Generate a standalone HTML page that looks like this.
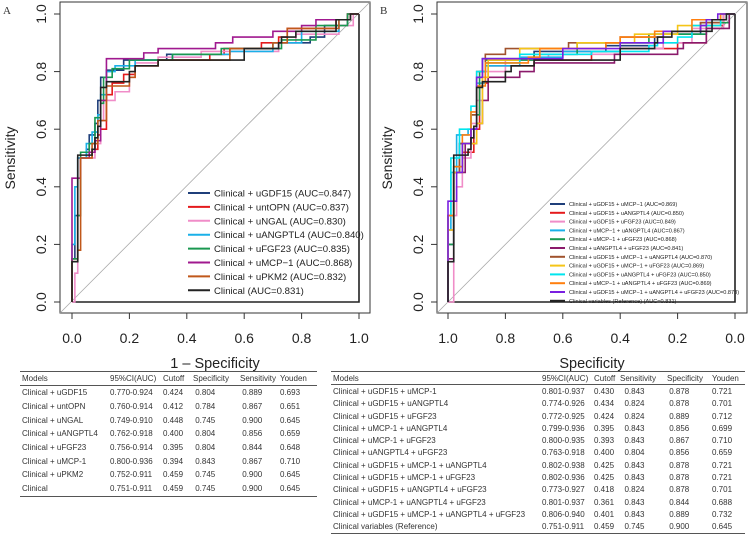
<!DOCTYPE html>
<html><head><meta charset="utf-8"><style>
body{margin:0;background:#fff;width:750px;height:536px;overflow:hidden;font-family:"Liberation Sans",sans-serif}
svg{position:absolute;left:0;top:0}
table{position:absolute;border-collapse:collapse;font-size:8px;color:#333;table-layout:fixed}
td{padding:0 0 0 2px;height:13.7px;white-space:nowrap;overflow:hidden}
#t2 td{height:12.3px}
thead td{border-bottom:1px solid #555;height:13px}
table{border-top:1px solid #555;border-bottom:1.5px solid #555}
</style></head><body>
<svg width="750" height="536"><g id="root"></g></svg>
<table id="t1" style="left:20px;top:371px;width:297px">
<colgroup><col style="width:88px"><col style="width:53px"><col style="width:30px"><col style="width:47px"><col style="width:40px"><col></colgroup>
<thead><tr><td>Models</td><td>95%CI(AUC)</td><td>Cutoff</td><td>Specificity</td><td>Sensitivity</td><td>Youden</td></tr></thead>
<tbody>
<tr><td>Clinical + uGDF15</td><td>0.770-0.924</td><td>0.424</td><td>&nbsp;0.804</td><td>&nbsp;0.889</td><td>0.693</td></tr>
<tr><td>Clinical + untOPN</td><td>0.760-0.914</td><td>0.412</td><td>&nbsp;0.784</td><td>&nbsp;0.867</td><td>0.651</td></tr>
<tr><td>Clinical + uNGAL</td><td>0.749-0.910</td><td>0.448</td><td>&nbsp;0.745</td><td>&nbsp;0.900</td><td>0.645</td></tr>
<tr><td>Clinical + uANGPTL4</td><td>0.762-0.918</td><td>0.400</td><td>&nbsp;0.804</td><td>&nbsp;0.856</td><td>0.659</td></tr>
<tr><td>Clinical + uFGF23</td><td>0.756-0.914</td><td>0.395</td><td>&nbsp;0.804</td><td>&nbsp;0.844</td><td>0.648</td></tr>
<tr><td>Clinical + uMCP-1</td><td>0.800-0.936</td><td>0.394</td><td>&nbsp;0.843</td><td>&nbsp;0.867</td><td>0.710</td></tr>
<tr><td>Clinical + uPKM2</td><td>0.752-0.911</td><td>0.459</td><td>&nbsp;0.745</td><td>&nbsp;0.900</td><td>0.645</td></tr>
<tr><td>Clinical</td><td>0.751-0.911</td><td>0.459</td><td>&nbsp;0.745</td><td>&nbsp;0.900</td><td>0.645</td></tr>
</tbody></table>
<table id="t2" style="left:331px;top:371px;width:414px">
<colgroup><col style="width:209px"><col style="width:52px"><col style="width:26px"><col style="width:47px"><col style="width:45px"><col></colgroup>
<thead><tr><td>Models</td><td>95%CI(AUC)</td><td>Cutoff</td><td>Sensitivity</td><td>Specificity</td><td>Youden</td></tr></thead>
<tbody>
<tr><td>Clinical + uGDF15 + uMCP-1</td><td>0.801-0.937</td><td>0.430</td><td>&nbsp;&nbsp;0.843</td><td>&nbsp;0.878</td><td>0.721</td></tr>
<tr><td>Clinical + uGDF15 + uANGPTL4</td><td>0.774-0.926</td><td>0.434</td><td>&nbsp;&nbsp;0.824</td><td>&nbsp;0.878</td><td>0.701</td></tr>
<tr><td>Clinical + uGDF15 + uFGF23</td><td>0.772-0.925</td><td>0.424</td><td>&nbsp;&nbsp;0.824</td><td>&nbsp;0.889</td><td>0.712</td></tr>
<tr><td>Clinical + uMCP-1 + uANGPTL4</td><td>0.799-0.936</td><td>0.395</td><td>&nbsp;&nbsp;0.843</td><td>&nbsp;0.856</td><td>0.699</td></tr>
<tr><td>Clinical + uMCP-1 + uFGF23</td><td>0.800-0.935</td><td>0.393</td><td>&nbsp;&nbsp;0.843</td><td>&nbsp;0.867</td><td>0.710</td></tr>
<tr><td>Clinical + uANGPTL4 + uFGF23</td><td>0.763-0.918</td><td>0.400</td><td>&nbsp;&nbsp;0.804</td><td>&nbsp;0.856</td><td>0.659</td></tr>
<tr><td>Clinical + uGDF15 + uMCP-1 + uANGPTL4</td><td>0.802-0.938</td><td>0.425</td><td>&nbsp;&nbsp;0.843</td><td>&nbsp;0.878</td><td>0.721</td></tr>
<tr><td>Clinical + uGDF15 + uMCP-1 + uFGF23</td><td>0.802-0.936</td><td>0.425</td><td>&nbsp;&nbsp;0.843</td><td>&nbsp;0.878</td><td>0.721</td></tr>
<tr><td>Clinical + uGDF15 + uANGPTL4 + uFGF23</td><td>0.773-0.927</td><td>0.418</td><td>&nbsp;&nbsp;0.824</td><td>&nbsp;0.878</td><td>0.701</td></tr>
<tr><td>Clinical + uMCP-1 + uANGPTL4 + uFGF23</td><td>0.801-0.937</td><td>0.361</td><td>&nbsp;&nbsp;0.843</td><td>&nbsp;0.844</td><td>0.688</td></tr>
<tr><td>Clinical + uGDF15 + uMCP-1 + uANGPTL4 + uFGF23</td><td>0.806-0.940</td><td>0.401</td><td>&nbsp;&nbsp;0.843</td><td>&nbsp;0.889</td><td>0.732</td></tr>
<tr><td>Clinical variables (Reference)</td><td>0.751-0.911</td><td>0.459</td><td>&nbsp;&nbsp;0.745</td><td>&nbsp;0.900</td><td>0.645</td></tr>
</tbody></table>
<script>
const tickValues=[0,0.2,0.4,0.6,0.8,1.0];
const tickLabelsA=["0.0","0.2","0.4","0.6","0.8","1.0"];
const tickLabelsB=["1.0","0.8","0.6","0.4","0.2","0.0"];
const namesA=["Clinical + uGDF15 (AUC=0.847)","Clinical + untOPN (AUC=0.837)","Clinical + uNGAL (AUC=0.830)","Clinical + uANGPTL4 (AUC=0.840)","Clinical + uFGF23 (AUC=0.835)","Clinical + uMCP\u22121 (AUC=0.868)","Clinical + uPKM2 (AUC=0.832)","Clinical (AUC=0.831)"];
const colorsA=["#1f3f7a","#e41a1c","#f08dc8","#1ab0e8","#1a9850","#a0198f","#c0581a","#222"];
const clin=[[0,0.14],[0.02,0.51],[0.07,0.53],[0.08,0.57],[0.09,0.61],[0.1,0.745],[0.12,0.765],[0.2,0.8],[0.22,0.82],[0.3,0.84],[0.6,0.88],[0.72,0.9],[0.73,0.92],[0.78,0.94],[0.92,0.98],[0.97,1]];
const seriesA=[
[[0,0.15],[0.01,0.3],[0.02,0.5],[0.05,0.53],[0.06,0.58],[0.08,0.62],[0.09,0.7],[0.1,0.78],[0.12,0.805],[0.18,0.84],[0.33,0.86],[0.55,0.88],[0.72,0.9],[0.83,0.92],[0.88,0.96],[0.96,1]],
[[0,0.15],[0.02,0.3],[0.03,0.5],[0.07,0.53],[0.09,0.58],[0.1,0.6],[0.12,0.72],[0.14,0.76],[0.18,0.79],[0.22,0.82],[0.3,0.84],[0.48,0.86],[0.53,0.88],[0.66,0.9],[0.72,0.92],[0.75,0.95],[0.92,0.98],[0.96,1]],
[[0.01,0.1],[0.02,0.3],[0.03,0.5],[0.08,0.55],[0.1,0.63],[0.11,0.7],[0.15,0.73],[0.2,0.78],[0.22,0.83],[0.3,0.85],[0.45,0.87],[0.72,0.9],[0.78,0.93],[0.93,0.96],[0.98,1]],
[[0,0.2],[0.01,0.4],[0.02,0.5],[0.05,0.55],[0.07,0.59],[0.09,0.65],[0.1,0.72],[0.12,0.8],[0.15,0.82],[0.22,0.84],[0.35,0.86],[0.55,0.87],[0.7,0.9],[0.8,0.94],[0.93,0.98],[0.97,1]],
[[0,0.15],[0.02,0.3],[0.03,0.52],[0.06,0.55],[0.08,0.64],[0.1,0.69],[0.11,0.78],[0.14,0.81],[0.2,0.84],[0.35,0.86],[0.52,0.88],[0.73,0.91],[0.85,0.96],[0.96,1]],
[[0,0.2],[0,0.43],[0.03,0.5],[0.06,0.52],[0.08,0.56],[0.1,0.62],[0.1,0.7],[0.12,0.76],[0.12,0.845],[0.25,0.865],[0.3,0.88],[0.5,0.9],[0.56,0.92],[0.7,0.94],[0.8,0.96],[0.85,0.98],[0.97,1]],
[[0,0.14],[0.02,0.18],[0.03,0.5],[0.07,0.55],[0.09,0.63],[0.12,0.75],[0.2,0.78],[0.22,0.82],[0.3,0.84],[0.55,0.88],[0.7,0.9],[0.75,0.95],[0.93,0.98],[0.97,1]],
clin];
const namesB=["Clinical + uGDF15 + uMCP\u22121 (AUC=0.869)","Clinical + uGDF15 + uANGPTL4 (AUC=0.850)","Clinical + uGDF15 + uFGF23 (AUC=0.849)","Clinical + uMCP\u22121 + uANGPTL4 (AUC=0.867)","Clinical + uMCP\u22121 + uFGF23 (AUC=0.868)","Clinical + uANGPTL4 + uFGF23 (AUC=0.841)","Clinical + uGDF15 + uMCP\u22121 + uANGPTL4 (AUC=0.870)","Clinical + uGDF15 + uMCP\u22121 + uFGF23 (AUC=0.869)","Clinical + uGDF15 + uANGPTL4 + uFGF23 (AUC=0.850)","Clinical + uMCP\u22121 + uANGPTL4 + uFGF23 (AUC=0.869)","Clinical + uGDF15 + uMCP\u22121 + uANGPTL4 + uFGF23 (AUC=0.873)","Clinical variables (Reference) (AUC=0.831)"];
const colorsB=["#1f3f7a","#e41a1c","#f08dc8","#1ab0e8","#1a9850","#8b1a6b","#a0522d","#f5c518","#00e5ee","#ff7f0e","#7a1fe0","#222"];
const seriesB=[
[[0,0.2],[0.02,0.45],[0.04,0.55],[0.08,0.6],[0.1,0.78],[0.12,0.845],[0.3,0.87],[0.55,0.89],[0.72,0.93],[0.88,0.97],[0.96,1]],
[[0,0.25],[0.02,0.45],[0.05,0.52],[0.09,0.6],[0.11,0.76],[0.14,0.82],[0.3,0.84],[0.5,0.87],[0.6,0.88],[0.8,0.9],[0.9,0.96],[0.96,1]],
[[0.02,0.3],[0.03,0.4],[0.05,0.5],[0.08,0.62],[0.1,0.7],[0.12,0.8],[0.2,0.84],[0.35,0.86],[0.6,0.88],[0.75,0.9],[0.85,0.95],[0.96,1]],
[[0,0.25],[0.01,0.45],[0.03,0.58],[0.07,0.6],[0.1,0.76],[0.13,0.82],[0.25,0.85],[0.4,0.87],[0.6,0.9],[0.75,0.93],[0.9,0.98],[0.97,1]],
[[0,0.2],[0.02,0.47],[0.05,0.55],[0.08,0.65],[0.11,0.8],[0.13,0.84],[0.3,0.86],[0.45,0.9],[0.7,0.93],[0.9,0.97],[0.98,1]],
[[0,0.15],[0.02,0.45],[0.06,0.55],[0.1,0.62],[0.12,0.7],[0.14,0.78],[0.25,0.8],[0.3,0.83],[0.58,0.86],[0.8,0.88],[0.82,0.9],[0.9,0.95],[0.98,1]],
[[0,0.3],[0.02,0.45],[0.04,0.55],[0.08,0.65],[0.1,0.8],[0.13,0.86],[0.2,0.88],[0.42,0.9],[0.6,0.92],[0.75,0.94],[0.88,0.97],[0.95,1]],
[[0,0.25],[0.02,0.45],[0.05,0.55],[0.1,0.62],[0.12,0.78],[0.14,0.84],[0.25,0.88],[0.45,0.9],[0.65,0.93],[0.8,0.96],[0.95,1]],
[[0,0.3],[0.01,0.5],[0.04,0.6],[0.08,0.68],[0.1,0.8],[0.13,0.83],[0.25,0.86],[0.5,0.87],[0.7,0.89],[0.73,0.9],[0.8,0.92],[0.85,0.96],[0.95,1]],
[[0,0.3],[0.02,0.47],[0.05,0.58],[0.08,0.66],[0.1,0.75],[0.13,0.83],[0.28,0.85],[0.32,0.88],[0.55,0.9],[0.6,0.92],[0.72,0.94],[0.85,0.98],[0.95,1]],
[[0,0.35],[0.03,0.45],[0.05,0.55],[0.08,0.6],[0.1,0.78],[0.12,0.845],[0.4,0.88],[0.6,0.9],[0.75,0.94],[0.88,0.96],[0.9,0.98],[0.94,1]],
clin];
const NS="http://www.w3.org/2000/svg";
const root=document.getElementById('root');
function mk(tag,attrs,parent,text){const e=document.createElementNS(NS,tag);for(const k in attrs)e.setAttribute(k,attrs[k]);if(text!==undefined)e.textContent=text;(parent||root).appendChild(e);return e;}
function panel(p){
  const x=v=>p.x0+287*v, y=v=>302-288*v;
  const g=mk('g',{});
  
  
  const fr=mk('rect',{x:p.fl,y:2,width:310,height:311,fill:'none',stroke:'#333','stroke-width':1},g);
  
  
  const dg=mk('line',{x1:p.fl,y1:313,x2:p.fl+310,y2:2,stroke:'#aaa','stroke-width':0.8},g);
  
  
  tickValues.forEach((v,i)=>{
    mk('line',{x1:p.fl,x2:p.fl-6,y1:y(v),y2:y(v),stroke:'#333'},g);
    const ty=mk('text',{x:p.fl-14,y:y(v),transform:`rotate(-90 ${p.fl-14} ${y(v)})`,'text-anchor':'middle','font-size':14,fill:'#222'},g,tickLabelsA[i]);
    
    
    mk('line',{x1:x(v),x2:x(v),y1:313,y2:319,stroke:'#333'},g);
    const tx=mk('text',{x:x(v),y:343,'text-anchor':'middle','font-size':14,fill:'#222'},g,p.ticks[i]);
    
    
  });
  const yt=mk('text',{x:p.fl-45,y:158,transform:`rotate(-90 ${p.fl-45} 158)`,'text-anchor':'middle','font-size':14,fill:'#222'},g,'Sensitivity');
  
  
  const xt=mk('text',{x:p.fl+155,y:368,'text-anchor':'middle','font-size':14.5,fill:'#222'},g,p.xtitle);
  
  
  const lt=mk('text',{x:p.fl-57,y:14,'font-size':11,'font-family':'Liberation Serif,serif',fill:'#333'},g,p.letter);
  
  
  const ob=mk('path',{d:`M${x(0)} ${y(0)}H${x(1)}V${y(1)}`,fill:'none',stroke:'#222','stroke-width':1.6},g);
  
  
  p.series.forEach((s,k)=>{
    let d=`M${x(0)} ${y(0)}`,py=0;
    s.forEach(([f,v])=>{d+=`L${x(f)} ${y(py)}L${x(f)} ${y(v)}`;py=v;});
    d+=`L${x(1)} ${y(py)}L${x(1)} ${y(1)}`;
    const c=mk('path',{d,fill:'none',stroke:p.colors[k],'stroke-width':1.6},g);
    
    
  });
  p.names.forEach((n,k)=>{
    const ly=p.ly0+k*p.ldy;
    mk('line',{x1:p.lx,x2:p.lx+p.ll,y1:ly,y2:ly,stroke:p.colors[k],'stroke-width':2},g);
    const t=mk('text',{x:p.lx+p.ll+4,y:ly+p.fs*0.36,'font-size':p.fs,fill:'#222'},g,n);
    
    
  });
}
panel({id:'a',x0:72,fl:60,ticks:tickLabelsA,xtitle:'1 \u2013 Specificity',letter:'A',series:seriesA,colors:colorsA,names:namesA,lx:188,ll:22,ly0:193,ldy:13.9,fs:9.6});
panel({id:'b',x0:448,fl:437,ticks:tickLabelsB,xtitle:'Specificity',letter:'B',series:seriesB,colors:colorsB,names:namesB,lx:550,ll:15,ly0:204,ldy:8.8,fs:5.6});
</script>
</body></html>
